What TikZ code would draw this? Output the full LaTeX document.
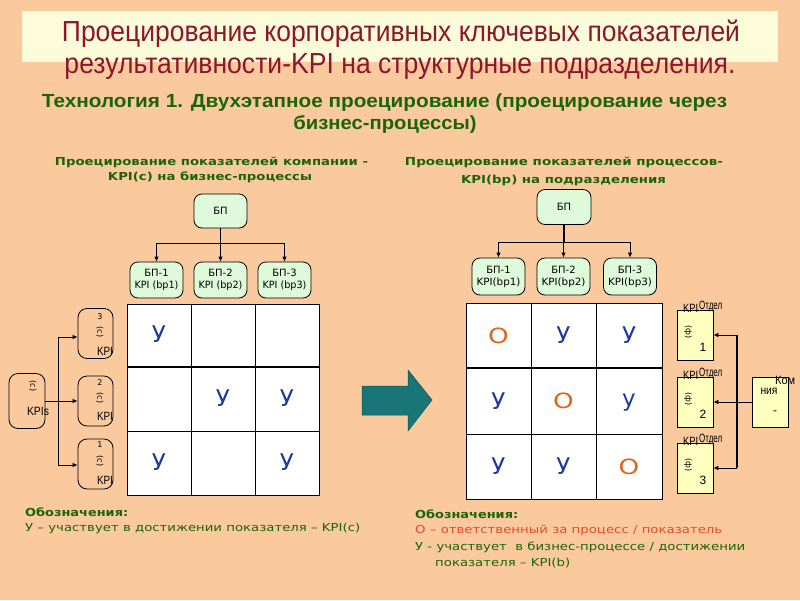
\documentclass[tikz,border=0pt]{standalone}
\usepackage{fontspec}
\usepackage{graphicx}
\setmainfont{DejaVu Sans}
\newfontfamily\titlef{Liberation Sans}
\usetikzlibrary{arrows.meta}
\definecolor{bg}{RGB}{250,202,158}
\definecolor{titlebg}{RGB}{252,251,218}
\definecolor{titlered}{RGB}{140,22,42}
\definecolor{dgreen}{RGB}{28,100,10}
\definecolor{bpfill}{RGB}{222,250,218}
\definecolor{ublue}{RGB}{30,55,165}
\definecolor{oorange}{RGB}{225,100,30}
\definecolor{legred}{RGB}{230,75,40}
\definecolor{kyellow}{RGB}{255,255,192}
\definecolor{arrteal}{RGB}{25,118,118}
\newcommand\fitw[2]{\resizebox{#1}{\height}{#2}}
\begin{document}
\begin{tikzpicture}[x=1pt,y=-1pt,
  bpbox/.style={draw=black, line width=0.8pt, fill=bpfill, rounded corners=8pt, inner sep=0pt, align=center, font=\fontsize{10}{12}\selectfont, minimum width=53pt},
  arr/.style={-{Latex[length=5pt,width=4.5pt]}, line width=0.8pt},
  kbox/.style={draw=black, rounded corners=9pt, minimum width=35pt, minimum height=50pt, line width=0.8pt, inner sep=0pt},
  dbox/.style={draw=black, fill=kyellow, minimum width=36pt, minimum height=50pt, line width=0.8pt, inner sep=0pt},
  lett/.style={text=ublue, font=\fontsize{23}{23}\selectfont, inner sep=0pt},
  ocirc/.style={text=oorange, font=\fontsize{21}{21}\selectfont, inner sep=0pt},
  tiny/.style={font=\fontsize{8}{8}\selectfont, inner sep=0pt},
  small/.style={font=\titlef\fontsize{12}{12}\selectfont, inner sep=0pt},
  head/.style={text=dgreen, font=\bfseries\fontsize{11}{11}\selectfont, inner sep=0pt},
  leg/.style={text=dgreen, font=\fontsize{11}{11}\selectfont, inner sep=0pt, anchor=west}
]
\useasboundingbox (0,0) rectangle (800,600);
\fill[bg] (0,0) rectangle (800,600);
% title
\fill[titlebg] (22,11) rectangle (778,62);
\node[text=titlered, font=\titlef\fontsize{29}{29}\selectfont, inner sep=0pt] (t1) at (401,34) {\fitw{678pt}{Проецирование корпоративных ключевых показателей}};
\node[text=titlered, font=\titlef\fontsize{29}{29}\selectfont, inner sep=0pt] (t2) at (400,67) {\fitw{671pt}{результативности-KPI на структурные подразделения.}};
\node[text=dgreen, font=\titlef\bfseries\fontsize{19}{19}\selectfont, inner sep=0pt] (s1) at (384.5,103) {\fitw{685pt}{Технология 1. Двухэтапное проецирование (проецирование через}};
\node[text=dgreen, font=\titlef\bfseries\fontsize{19}{19}\selectfont, inner sep=0pt] (s2) at (385,124) {\fitw{183pt}{бизнес-процессы)}};
% headings
\node[head] (hl1) at (211.5,162) {\fitw{313pt}{Проецирование показателей компании -}};
\node[head] (hl2) at (210,177) {\fitw{204pt}{KPI(с) на бизнес-процессы}};
\node[head] (hr1) at (564,162) {\fitw{318pt}{Проецирование показателей процессов-}};
\node[head] (hr2) at (563.5,180) {\fitw{205pt}{KPI(bp) на подразделения}};
% left tree
\node[bpbox, minimum height=34pt] (bpL) at (220.5,211) {БП};
\node[bpbox, minimum height=36pt] (l1) at (156.5,280) {БП-1\\\fitw{44pt}{KPI (bp1)}};
\node[bpbox, minimum height=36pt] (l2) at (220.5,280) {БП-2\\\fitw{44pt}{KPI (bp2)}};
\node[bpbox, minimum height=36pt] (l3) at (284.5,280) {БП-3\\\fitw{44pt}{KPI (bp3)}};
\coordinate (jL) at (220.5,243);
\draw[line width=0.8pt] (bpL.south) -- (jL);
\draw[line width=0.8pt] (jL -| l1.north) -- (jL -| l3.north);
\draw[arr] (jL -| l1.north) -- (l1.north);
\draw[arr] (jL -| l2.north) -- (l2.north);
\draw[arr] (jL -| l3.north) -- (l3.north);
% right tree
\node[bpbox, minimum height=35pt, minimum width=54pt] (bpR) at (564,207) {БП};
\node[bpbox, minimum height=37pt] (r1) at (498.5,276.5) {БП-1\\\fitw{44pt}{KPI(bp1)}};
\node[bpbox, minimum height=37pt] (r2) at (563.5,276.5) {БП-2\\\fitw{44pt}{KPI(bp2)}};
\node[bpbox, minimum height=37pt] (r3) at (630,276.5) {БП-3\\\fitw{44pt}{KPI(bp3)}};
\coordinate (jR) at (564,242);
\draw[line width=1.6pt] (bpR.south) -- (jR);
\draw[line width=0.8pt] (jR -| r1.north) -- (jR -| r3.north);
\draw[arr] (jR -| r1.north) -- (r1.north);
\draw[arr, line width=1.6pt] (jR -| r2.north) -- (r2.north);
\draw[arr] (jR -| r3.north) -- (r3.north);
% left grid
\draw[line width=0.8pt, fill=white] (127,304) rectangle (319,495);
\draw[line width=0.8pt] (191,304) -- (191,495) (255,304) -- (255,495) (127,431) -- (319,431);
\draw[line width=1.6pt] (127,367) -- (319,367);
\node[lett] (a11) at (159,334) {У};
\node[lett] (a22) at (223,398) {У};
\node[lett] (a23) at (287,398) {У};
\node[lett] (a31) at (159,462) {У};
\node[lett] (a33) at (287,462) {У};
% right grid
\draw[line width=0.8pt, fill=white] (466,303) rectangle (662,499);
\draw[line width=0.8pt] (531,303) -- (531,499) (596,303) -- (596,499) (466,434) -- (662,434);
\draw[line width=1.6pt] (466,368) -- (662,368);
\node[ocirc] (b11) at (498.5,336) {\scalebox{1.25}[1]{О}};
\node[lett] (b12) at (563.5,335) {У};
\node[lett] (b13) at (629,335) {У};
\node[lett] (b21) at (498.5,401) {У};
\node[ocirc] (b22) at (563.5,401) {\scalebox{1.25}[1]{О}};
\node[lett] (b23) at (629,403) {у};
\node[lett] (b31) at (498.5,466) {У};
\node[lett] (b32) at (563.5,466) {У};
\node[ocirc] (b33) at (629,467) {\scalebox{1.25}[1]{О}};
% left KPI boxes
\node[kbox, minimum width=36pt, minimum height=55pt] (kpis) at (27,401) {};
\node[kbox] (k3) at (95.5,333.5) {};
\node[kbox] (k2) at (95.5,401) {};
\node[kbox] (k1) at (95.5,464) {};
\coordinate (jk) at (58,401);
\draw[line width=0.8pt] (kpis.east) -- (jk);
\draw[line width=0.8pt] (jk |- 0,337) -- (jk |- 0,465);
\draw[arr] (jk |- 0,337) -- (k3.west |- 0,337);
\draw[arr] (jk) -- (k2.west);
\draw[arr] (jk |- 0,465) -- (k1.west |- 0,465);
\node[tiny, rotate=-90] (kps) at (33,386) {(с)};
\node[small] (kpst) at (38,411) {\fitw{22pt}{KPIs}};
\node[tiny] (k3n) at (100,317) {3};
\node[tiny, rotate=-90] (k3s) at (100,332) {(с)};
\node[small] (k3t) at (105,351) {\fitw{16pt}{KPI}};
\node[tiny] (k2n) at (100,383) {2};
\node[tiny, rotate=-90] (k2s) at (100,398) {(с)};
\node[small] (k2t) at (105,416) {\fitw{16pt}{KPI}};
\node[tiny] (k1n) at (100,445) {1};
\node[tiny, rotate=-90] (k1s) at (100,461) {(с)};
\node[small] (k1t) at (105,480) {\fitw{16pt}{KPI}};
% teal arrow
\filldraw[fill=arrteal, draw=arrteal!70!black, line width=0.5pt] (362,386) -- (408,386) -- (408,370) -- (432,400) -- (408,431) -- (408,415) -- (362,415) -- cycle;
% right department boxes
\node[dbox] (d1) at (695,335) {};
\node[dbox] (d2) at (695,402) {};
\node[dbox] (d3) at (695,468) {};
\node[dbox] (comp) at (770,402) {};
\coordinate (jd) at (737,402);
\draw[line width=0.8pt] (comp.west) -- (jd);
\draw[line width=1.6pt] (jd |- d1.east) -- (jd |- d3.east);
\draw[arr] (jd |- d1.east) -- (d1.east);
\draw[arr] (jd) -- (d2.east);
\draw[arr] (jd |- d3.east) -- (d3.east);
\foreach \n/\y/\d in {d1/310/1, d2/377/2, d3/443/3}{
  \node[small, anchor=west] (\n k) at (683,\y-2) {\fitw{15pt}{KPI}};
  \node[small, anchor=west] (\n o) at (699,\y-4) {\fitw{23pt}{Отдел}};
  \node[tiny, rotate=-90] (\n s) at (688,\y+22) {(ф)};
  \node[small] (\n n) at (703,\y+37) {\d};
}
\node[small, anchor=west] (compk) at (775,380) {\fitw{20pt}{Ком}};
\node[small] (compn) at (769,391) {\fitw{17pt}{ния}};
\node[small] (compd) at (775,413) {-};
% legends
\node[leg, font=\bfseries\fontsize{11}{11}\selectfont] (lg1) at (25,512) {\fitw{103pt}{Обозначения:}};
\node[leg] (lg2) at (25,528) {\fitw{335pt}{У – участвует в достижении показателя – KPI(с)}};
\node[leg, font=\bfseries\fontsize{11}{11}\selectfont] (rg1) at (415,514) {\fitw{103pt}{Обозначения:}};
\node[leg, text=legred] (rg2) at (415,530) {\fitw{307pt}{О – ответственный за процесс / показатель}};
\node[leg] (rg3) at (415,547) {\fitw{330pt}{У - участвует\ \ в бизнес-процессе / достижении}};
\node[leg] (rg4) at (435,563) {\fitw{135pt}{показателя – KPI(b)}};
\end{tikzpicture}
\end{document}
